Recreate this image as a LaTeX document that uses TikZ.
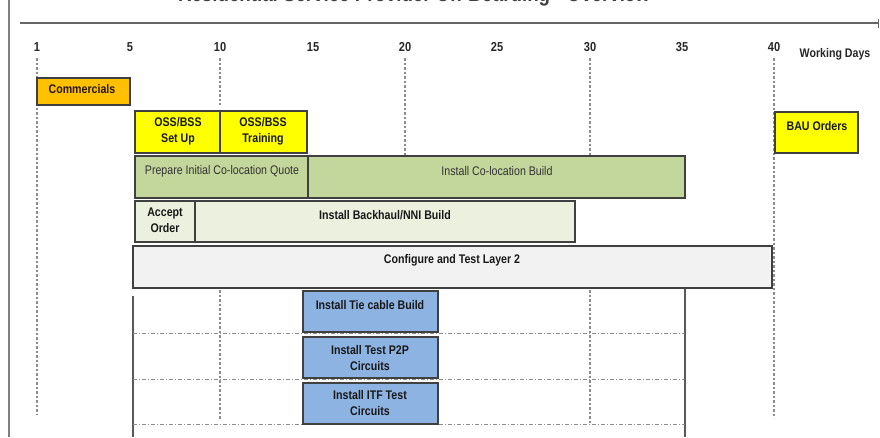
\documentclass[tikz,border=0pt]{standalone}
\usepackage{fontspec}
\setmainfont{Liberation Sans}[FakeStretch=0.85]
\usetikzlibrary{arrows.meta}
\definecolor{commorange}{HTML}{FFC000}
\definecolor{ossyellow}{HTML}{FFFF00}
\definecolor{cologreen}{HTML}{C3D69B}
\definecolor{paleGreen}{HTML}{EBF1DE}
\definecolor{layergray}{HTML}{F2F2F2}
\definecolor{tieblue}{HTML}{8DB3E2}
\tikzset{
	task/.style={draw=black!75, line width=1.2pt},
	tasktext/.style={font=\fontsize{12.5}{16}\selectfont\bfseries, align=center, text=black!90, inner sep=0pt},
	plaintext/.style={font=\fontsize{12.5}{16}\selectfont, text=black!80, inner sep=0pt},
	daytext/.style={font=\fontsize{13}{14}\selectfont\bfseries, text=black!85},
	dayline/.style={draw=black!45, line width=1.3pt, dash pattern=on 2.5pt off 2pt},
	rowline/.style={draw=black!45, line width=1pt, dash pattern=on 4pt off 2pt on 1pt off 2pt}
}

\begin{document}
\begin{tikzpicture}[x=1pt, y=-1pt]
		%%%%% START %%%%%
		\useasboundingbox (0, 0) rectangle (880, 437);
		
		\node[font=\fontsize{22}{24}\selectfont\bfseries, text=black!75, anchor=base] (title) at (414, 1) {Residential Service Provider On-Boarding - Overview};
		
		\draw[line width=1.5pt, color=black!50] (9, 0) -- (9, 437);
		\draw[line width=1.5pt, color=black!60, -{Bar[width=9pt]}] (20, 23) -- (879, 23);
		
		\node[daytext] (day1) at (37, 47) {1};
		\node[daytext] (day5) at (130, 47) {5};
		\node[daytext] (day10) at (220, 47) {10};
		\node[daytext] (day15) at (313, 47) {15};
		\node[daytext] (day20) at (405, 47) {20};
		\node[daytext] (day25) at (497, 47) {25};
		\node[daytext] (day30) at (590, 47) {30};
		\node[daytext] (day35) at (682, 47) {35};
		\node[daytext] (day40) at (774, 47) {40};
		\node[daytext, font=\fontsize{12.5}{14}\selectfont\bfseries] (workdays) at (835, 54) {Working Days};
		
		% day lines
		\draw[dayline] (37, 58) -- (37, 415);
		\draw[dayline] (220, 58) -- (220, 105);
		\draw[dayline] (220, 290) -- (220, 420);
		\draw[dayline] (405, 58) -- (405, 155);
		\draw[dayline] (590, 58) -- (590, 155);
		\draw[dayline] (590, 290) -- (590, 424);
		\draw[dayline] (774, 58) -- (774, 418);
		
		\draw[line width=1.3pt, color=black!65] (133, 296) -- (133, 437);
		\draw[line width=1.3pt, color=black!65] (685, 288) -- (685, 437);
		
		\draw[rowline] (133, 333) -- (685, 333);
		\draw[rowline] (133, 379) -- (685, 379);
		\draw[rowline] (133, 424) -- (685, 424);
		
		% tasks
		\draw[task, fill=commorange] (37, 78) rectangle (130, 105);
		\node[tasktext, text=black!80!brown] (commercials) at (82, 89) {Commercials};
		
		\draw[task, fill=ossyellow] (135, 111) rectangle (220, 153);
		\node[tasktext] (osssetup) at (178, 131) {OSS/BSS\\Set Up};
		\draw[task, fill=ossyellow] (220, 111) rectangle (307, 153);
		\node[tasktext] (osstraining) at (263, 131) {OSS/BSS\\Training};
		
		\draw[task, fill=ossyellow] (775, 112) rectangle (858, 153);
		\node[tasktext] (bauorders) at (817, 126) {BAU Orders};
		
		\draw[task, fill=cologreen] (135, 156) rectangle (308, 198);
		\node[plaintext] (quote) at (222, 171) {Prepare Initial Co-location Quote};
		\draw[task, fill=cologreen] (308, 156) rectangle (685, 198);
		\node[plaintext] (colobuild) at (497, 171) {Install Co-location Build};
		
		\draw[task, fill=paleGreen] (135, 201) rectangle (195, 242);
		\node[tasktext] (accept) at (165, 220) {Accept\\Order};
		\draw[task, fill=paleGreen] (195, 201) rectangle (575, 242);
		\node[tasktext] (backhaul) at (385, 215) {Install Backhaul/NNI Build};
		
		\draw[task, fill=layergray] (133, 246) rectangle (772, 288);
		\node[tasktext] (layertwo) at (452, 260) {Configure and Test Layer 2};
		
		\draw[task, fill=tieblue] (303, 291) rectangle (438, 332);
		\node[tasktext] (tiecable) at (370, 305) {Install Tie cable Build};
		\draw[task, fill=tieblue] (303, 337) rectangle (438, 378);
		\node[tasktext] (testptwop) at (370, 358) {Install Test P2P\\Circuits};
		\draw[task, fill=tieblue] (303, 383) rectangle (438, 424);
		\node[tasktext] (itftest) at (370, 403) {Install ITF Test\\Circuits};
		
		%%%%% END %%%%%
	\end{tikzpicture}
\end{document}
